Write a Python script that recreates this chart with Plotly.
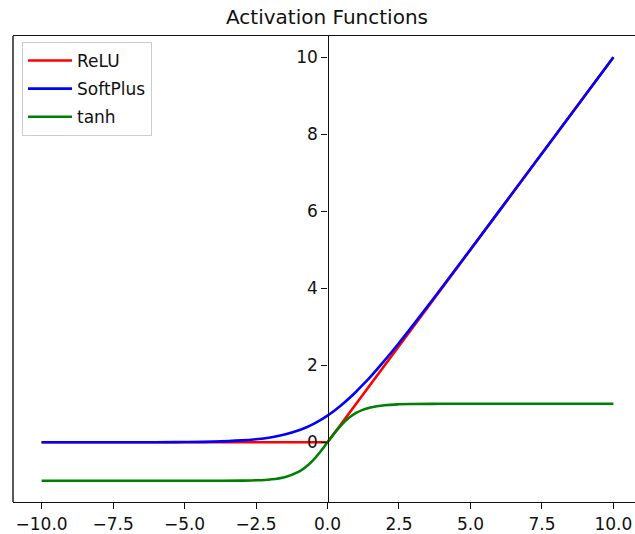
import plotly.graph_objects as go

# Sample points
x_vals = [-10, -8, -6, -5, -4, -3, -2.5, -2, -1.5, -1, -0.75, -0.5, -0.25,
          0, 0.25, 0.5, 0.75, 1, 1.25, 1.5, 2, 2.5, 3, 4, 5, 6, 8, 10]
relu_vals = [0, 0, 0, 0, 0, 0, 0, 0, 0, 0, 0, 0, 0,
             0, 0.25, 0.5, 0.75, 1, 1.25, 1.5, 2, 2.5, 3, 4, 5, 6, 8, 10]
softplus_vals = [0.0, 0.0, 0.0025, 0.0067, 0.018, 0.049, 0.079, 0.127, 0.201, 0.313,
                 0.386, 0.474, 0.576, 0.693, 0.826, 0.974, 1.136, 1.313, 1.504, 1.701,
                 2.127, 2.579, 3.049, 4.018, 5.007, 6.002, 8.0, 10.0]
tanh_vals = [-1.0, -1.0, -1.0, -0.9999, -0.9993, -0.995, -0.987, -0.964, -0.905, -0.762,
             -0.635, -0.462, -0.245, 0.0, 0.245, 0.462, 0.635, 0.762, 0.848, 0.905,
             0.964, 0.987, 0.995, 0.9993, 0.9999, 1.0, 1.0, 1.0]

series_names = ["ReLU", "SoftPlus", "tanh"]
series_colors = ["#ff0000", "#0000ff", "#008000"]

x_tickvals = [-10, -7.5, -5, -2.5, 0, 2.5, 5, 7.5, 10]
x_ticktext = ["\u221210.0", "\u22127.5", "\u22125.0", "\u22122.5", "0.0", "2.5", "5.0", "7.5", "10.0"]
y_tickvals = [0, 2, 4, 6, 8, 10]
y_ticktext = ["0", "2", "4", "6", "8", "10"]

FONT = "DejaVu Sans"
INK = "#111111"
# The figure is wider than the window: its right edge (and right spine) is cropped off,
# as in the reference image.
W, H = 642, 534
ML, MR, MT, MB = 13, 0, 36, 29
x_range = [-11, 11]
y_range = [-1.55, 10.55]

fig = go.Figure()
for name, vals, col, shape in zip(series_names, [relu_vals, softplus_vals, tanh_vals],
                                  series_colors, ["linear", "spline", "spline"]):
    fig.add_trace(go.Scatter(x=x_vals, y=vals, mode="lines", name=name,
                             legendgroup=name,
                             line=dict(color=col, width=2.6, shape=shape)))

ypos = (0 - x_range[0]) / (x_range[1] - x_range[0])
plot_w = W - ML - MR
plot_h = H - MT - MB

fig.update_layout(
    width=W, height=H,
    margin=dict(l=ML, r=MR, t=MT, b=MB),
    paper_bgcolor="white", plot_bgcolor="white",
    font=dict(family=FONT, size=17, color=INK),
    title=dict(text="Activation Functions", x=327 / W, xanchor="center",
               y=1 - 17 / H, yanchor="middle", yref="container",
               font=dict(family=FONT, size=20, color=INK)),
    xaxis=dict(range=x_range, showgrid=False, zeroline=False,
               showline=True, linecolor=INK, linewidth=1.4, mirror=True,
               ticks="outside", ticklen=6, tickwidth=1.4, tickcolor=INK,
               tickvals=x_tickvals, ticktext=x_ticktext,
               tickfont=dict(family=FONT, size=17, color=INK)),
    yaxis=dict(range=y_range, showgrid=False, zeroline=False,
               anchor="free", position=ypos,
               showline=True, linecolor=INK, linewidth=1.4,
               ticks="outside", ticklen=6, tickwidth=1.4, tickcolor=INK,
               tickvals=y_tickvals, ticktext=y_ticktext,
               tickfont=dict(family=FONT, size=17, color=INK)),
    legend=dict(x=9 / plot_w, y=1 - 6 / plot_h, xanchor="left", yanchor="top",
                bgcolor="rgba(255,255,255,0.8)", bordercolor="#cccccc", borderwidth=1,
                tracegroupgap=3, traceorder="grouped", itemwidth=44,
                font=dict(family=FONT, size=17, color=INK)),
    showlegend=True,
)

# Left and right frame lines
fig.add_shape(type="line", xref="paper", yref="paper", x0=0, x1=0, y0=0, y1=1,
              line=dict(color=INK, width=1.4))
fig.add_shape(type="line", xref="paper", yref="paper", x0=1, x1=1, y0=0, y1=1,
              line=dict(color=INK, width=1.4))

fig.write_html("out.html", config={"displayModeBar": False},
               post_script="document.body.style.margin='0';document.body.style.overflow='hidden';")
